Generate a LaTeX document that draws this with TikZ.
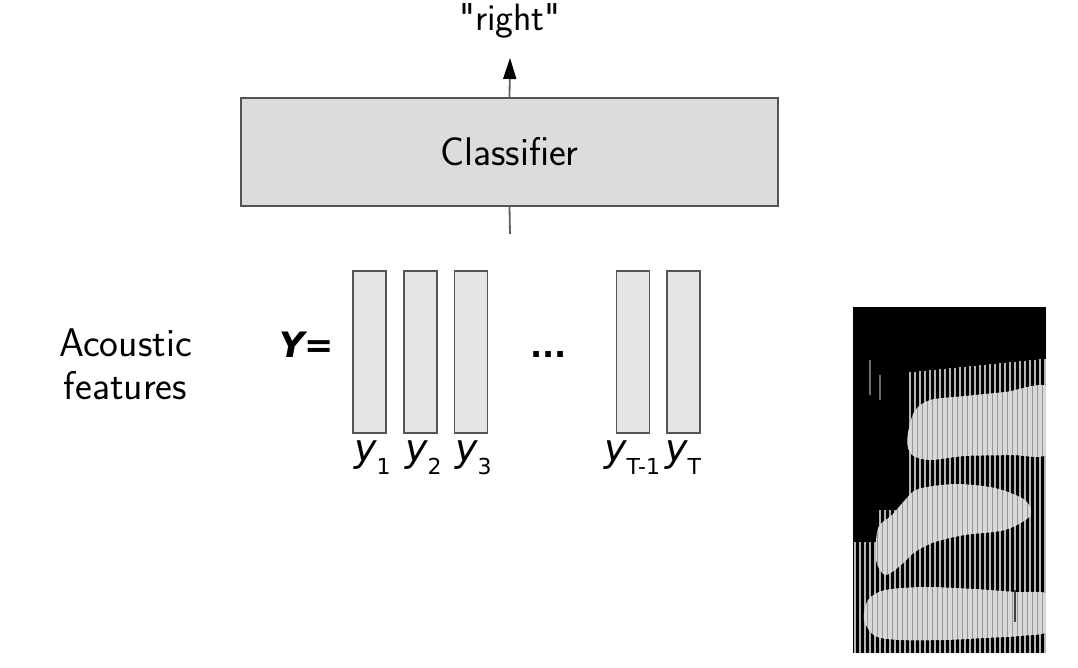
\documentclass[tikz,border=0pt]{standalone}
\usepackage{fontspec}
\newfontfamily\dejavu{DejaVu Sans}
\usetikzlibrary{arrows.meta}
\definecolor{boxfill}{HTML}{DCDCDC}
\definecolor{barfill}{HTML}{E6E6E6}
\definecolor{edge}{HTML}{555555}
\definecolor{conncol}{HTML}{606060}
\definecolor{specbright}{HTML}{D9D9D9}
\definecolor{specstripe}{HTML}{B5B5B5}
\newcommand{\ysub}[1]{y\raisebox{-13pt}{\upshape\fontsize{22}{22}\selectfont #1}}
\begin{document}
\begin{tikzpicture}[x=1pt,y=-1pt,
  sans/.style={font=\sffamily\fontsize{40}{46}\selectfont, inner sep=0pt},
  clfbox/.style={draw=edge, line width=1.2pt, fill=boxfill, minimum width=537pt, minimum height=108pt, inner sep=0pt},
  featbar/.style={draw=edge, line width=1.2pt, fill=barfill, minimum width=33pt, minimum height=162pt, inner sep=0pt},
  ylab/.style={font=\dejavu\itshape\fontsize{38}{40}\selectfont, inner sep=0pt, anchor=base west},
  conn/.style={draw=conncol, line width=1.8pt},
  blob/.style={fill=specbright},
  lightstripe/.style={draw=specstripe, line width=2.2pt},
  darkstripe/.style={draw=black, opacity=0.3, line width=1.4pt}
]
\useasboundingbox (0,0) rectangle (1078,668);

% classifier
\node[clfbox, sans] (clf) at (509.5,152) {Classifier};
\node[sans, font=\sffamily\fontsize{38}{44}\selectfont, anchor=base] (out) at (510,31) {\textquotedbl right\textquotedbl};
\coordinate (tip) at (510,58);
\coordinate (in) at (510,234);
\draw[conn, -{Triangle[length=21pt,width=13pt,color=black,fill=black]}] (clf.north) -- (tip);
\draw[conn] (in) -- (clf.south);

% features
\node[sans, anchor=base] (ac) at (125.5,356) {Acoustic};
\node[sans, anchor=base] (fe) at (125.5,399) {features};
\node[font=\dejavu\bfseries\fontsize{35}{38}\selectfont, inner sep=0pt, anchor=base west] (Y) at (279,357) {\itshape Y\upshape=};

\node[featbar] (b1) at (369.5,352) {};
\node[featbar] (b2) at (420.5,352) {};
\node[featbar] (b3) at (471,352) {};
\node[featbar] (b4) at (633,352) {};
\node[featbar] (b5) at (683.5,352) {};
\node[font=\dejavu\bfseries\fontsize{32}{36}\selectfont, inner sep=0pt, anchor=base] (dots) at (548.5,357) {...};

\node[ylab] (y1) at (354,461) {\ysub{1}};
\node[ylab] (y2) at (405,461) {\ysub{2}};
\node[ylab] (y3) at (455,461) {\ysub{3}};
\node[ylab] (yT1) at (604,461) {\ysub{T-1}};
\node[ylab] (yT) at (665,461) {\ysub{T}};

% spectrogram
\fill[black] (853,307) rectangle (1046,653);
\begin{scope}
\clip (853,307) rectangle (1046,653);
\foreach \x in {855,860,...,875} \draw[lightstripe] (\x,542) -- (\x,653);
\foreach \x in {880,885,...,905} \draw[lightstripe] (\x,510) -- (\x,653);
\foreach \x in {910,915,...,1045} \draw[lightstripe] (\x,{372-(\x-910)*0.1}) -- (\x,653);
\draw[lightstripe, opacity=0.6] (870,360) -- (870,395);
\draw[lightstripe, opacity=0.6] (880,375) -- (880,400);
% top blob
\fill[blob] plot[smooth cycle] coordinates {(907,440) (914,412) (930,400) (965,396) (1005,392) (1050,388) (1050,452) (1010,455) (965,456) (930,460) (912,455)};
% middle blob
\fill[blob] plot[smooth cycle] coordinates {(878,528) (892,515) (905,500) (918,489) (955,484) (995,488) (1025,500) (1030,516) (1005,530) (965,535) (935,542) (915,552) (900,566) (885,575) (876,560)};
% bottom blob
\fill[blob] plot[smooth cycle] coordinates {(868,600) (885,590) (925,587) (975,589) (1015,592) (1050,595) (1050,630) (1020,636) (985,638) (945,640) (900,640) (875,636) (864,620)};
\foreach \x in {857.5,862.5,...,1045} \draw[darkstripe] (\x,307) -- (\x,653);
\draw[black, line width=2pt, opacity=0.7] (1015,590) -- (1015,622);
\end{scope}
\end{tikzpicture}
\end{document}
